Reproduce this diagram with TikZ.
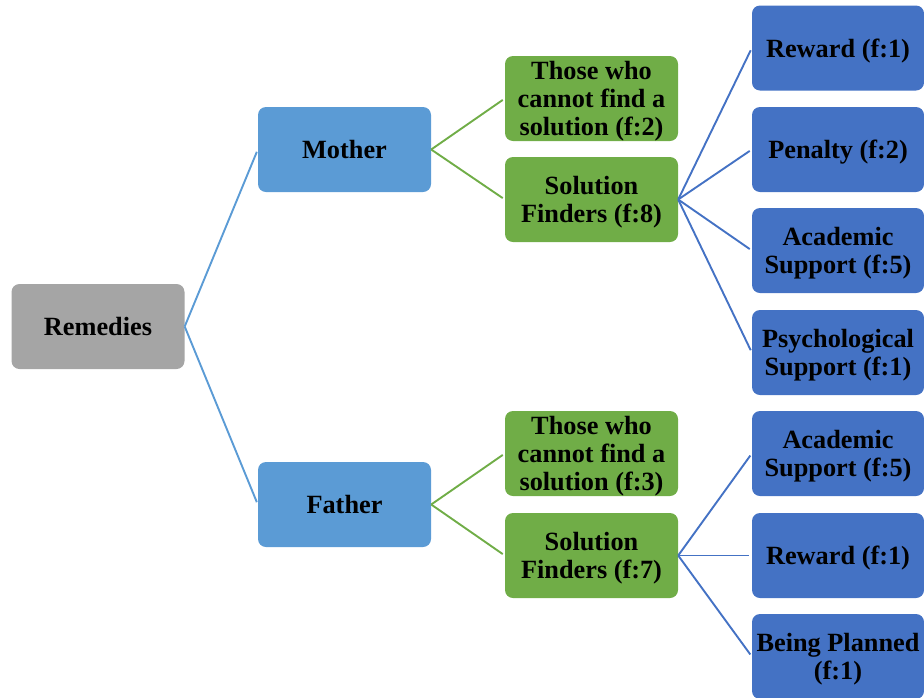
\documentclass[tikz,border=0pt]{standalone}
\usepackage{fontspec}
\setmainfont{Liberation Serif}
\definecolor{rootgray}{HTML}{A5A5A5}
\definecolor{parentblue}{HTML}{5B9BD5}
\definecolor{groupgreen}{HTML}{70AD47}
\definecolor{leafblue}{HTML}{4472C4}
\tikzset{
  box/.style={rounded corners=8pt, minimum width=173pt, minimum height=85pt,
    inner sep=0pt, align=center, text=black, text depth=0pt,
    font=\fontsize{26.3}{28}\selectfont\bfseries},
  rootbox/.style={box, fill=rootgray},
  parentbox/.style={box, fill=parentblue},
  groupbox/.style={box, fill=groupgreen},
  leafbox/.style={box, fill=leafblue, minimum width=172pt},
  link/.style={line width=1.9pt, shorten >=2.5pt},
}
\begin{document}
\begin{tikzpicture}[x=1pt,y=-1pt]
\useasboundingbox (0,0) rectangle (924,697);
\clip (0,0) rectangle (924,697);

% root and parents
\node[rootbox]   (rem)    at (98,326.5)   {Remedies};
\node[parentbox] (mother) at (344.5,149.5) {Mother};
\node[parentbox] (father) at (344.5,504.5) {Father};

% mother's groups
\node[groupbox] (m1) at (591.5,98.5)  {Those who\\cannot find a\\solution (f:2)};
\node[groupbox] (m2) at (591.5,199.5) {Solution\\Finders (f:8)};

% father's groups
\node[groupbox] (f1) at (591.5,453.5) {Those who\\cannot find a\\solution (f:3)};
\node[groupbox] (f2) at (591.5,555.5) {Solution\\Finders (f:7)};

% remedies named by the solution finders
\node[leafbox] (ma) at (838,48)    {Reward (f:1)};
\node[leafbox] (mb) at (838,149.5) {Penalty (f:2)};
\node[leafbox] (mc) at (838,250.5) {Academic\\Support (f:5)};
\node[leafbox] (md) at (838,352.5) {Psychological\\Support (f:1)};
\node[leafbox] (fa) at (838,453.5) {Academic\\Support (f:5)};
\node[leafbox] (fb) at (838,555.5) {Reward (f:1)};
\node[leafbox] (fc) at (838,656.5) {Being Planned\\(f:1)};

% connectors
\draw[link, parentblue] (rem.east) -- (mother.west);
\draw[link, parentblue] (rem.east) -- (father.west);
\draw[link, groupgreen] (mother.east) -- (m1.west);
\draw[link, groupgreen] (mother.east) -- (m2.west);
\draw[link, groupgreen] (father.east) -- (f1.west);
\draw[link, groupgreen] (father.east) -- (f2.west);
\foreach \t in {ma,mb,mc,md}
  \draw[link, leafblue] (m2.east) -- (\t.west);
\foreach \t in {fa,fb,fc}
  \draw[link, leafblue] (f2.east) -- (\t.west);
\end{tikzpicture}
\end{document}
